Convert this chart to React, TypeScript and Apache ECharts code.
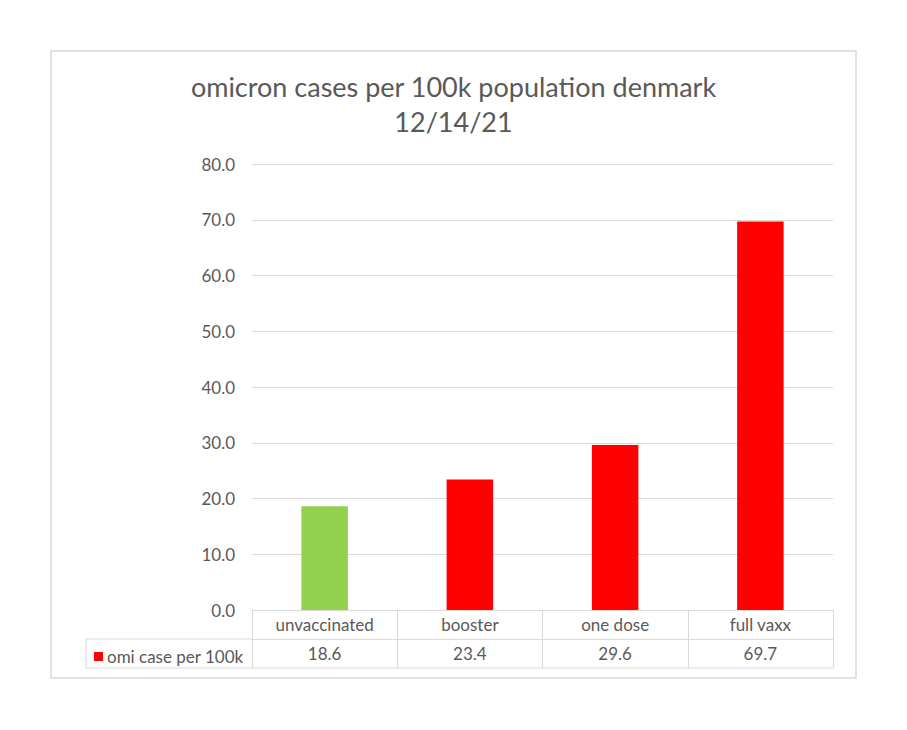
import React, { useEffect, useRef } from "react";
import * as echarts from "echarts";

const TITLE_LINE_1 = "omicron cases per 100k population denmark";
const TITLE_LINE_2 = "12/14/21";
const CATEGORIES = ["unvaccinated", "booster", "one dose", "full vaxx"];
const SERIES_NAME = "omi case per 100k";
const CASES_PER_100K = [18.6, 23.4, 29.6, 69.7];
const HIGHLIGHT_CATEGORY = "unvaccinated";
const Y_MIN = 0;
const Y_MAX = 80;
const Y_INTERVAL = 10;

const FONT = "Lato, 'Open Sans', sans-serif";
const TEXT = "#595959";
const GRID_LINE = "#d9d9d9";
const RED = "#ff0000";
const GREEN = "#92d050";

export default function App() {
  const ref = useRef<HTMLDivElement>(null);
  useEffect(() => {
    if (!ref.current) return;
    const chart = echarts.init(ref.current, undefined, { renderer: "svg" });
    const gridLeft = 252;
    const gridRight = 833;
    const gridTop = 164;
    const gridBottom = 610;
    const rowH = 29;
    const tableLeft = 86;
    chart.setOption({
      animation: false,
      backgroundColor: "#ffffff",
      title: {
        text: TITLE_LINE_1 + "\n" + TITLE_LINE_2,
        left: "center",
        top: 64,
        textStyle: {
          fontFamily: FONT,
          fontSize: 27,
          fontWeight: "normal",
          color: TEXT,
          lineHeight: 35,
        },
      },
      legend: {
        show: true,
        data: [SERIES_NAME],
        left: 89,
        top: 643,
        icon: "rect",
        itemWidth: 9,
        itemHeight: 9,
        itemGap: 6,
        textStyle: { fontFamily: FONT, fontSize: 17, color: TEXT, padding: [0, 0, 0, -1] },
      },
      grid: {
        left: gridLeft,
        right: 907 - gridRight,
        top: gridTop,
        bottom: 730 - gridBottom,
        containLabel: false,
      },
      xAxis: [
        {
          type: "category",
          data: CATEGORIES,
          position: "bottom",
          axisLine: { show: true, lineStyle: { color: GRID_LINE, width: 1 } },
          axisTick: {
            show: true,
            interval: 0,
            length: rowH * 2,
            lineStyle: { color: GRID_LINE, width: 1 },
          },
          axisLabel: {
            interval: 0,
            margin: 0,
            lineHeight: rowH,
            fontFamily: FONT,
            fontSize: 17,
            color: TEXT,
          },
        },
        {
          type: "category",
          data: CASES_PER_100K.map((v) => v.toFixed(1)),
          position: "bottom",
          offset: rowH,
          axisLine: { show: true, lineStyle: { color: GRID_LINE, width: 1 } },
          axisTick: { show: false },
          axisLabel: {
            interval: 0,
            margin: 0,
            lineHeight: rowH,
            fontFamily: FONT,
            fontSize: 17,
            color: TEXT,
          },
        },
      ],
      yAxis: {
        type: "value",
        min: Y_MIN,
        max: Y_MAX,
        interval: Y_INTERVAL,
        axisLine: { show: false },
        axisTick: { show: false },
        splitLine: { lineStyle: { color: GRID_LINE, width: 1 } },
        axisLabel: {
          margin: 17,
          fontFamily: FONT,
          fontSize: 17,
          color: TEXT,
          formatter: (v: number) => v.toFixed(1),
        },
      },
      series: [
        {
          name: SERIES_NAME,
          type: "bar",
          xAxisIndex: 0,
          barWidth: "32%",
          itemStyle: { color: RED },
          data: CASES_PER_100K.map((v, i) => ({
            value: v,
            itemStyle: { color: CATEGORIES[i] === HIGHLIGHT_CATEGORY ? GREEN : RED },
          })),
        },
      ],
      graphic: [
        {
          type: "rect",
          shape: { x: 51, y: 51, width: 805, height: 627 },
          style: { fill: "none", stroke: GRID_LINE, lineWidth: 1.5 },
          silent: true,
        },
        {
          type: "line",
          shape: { x1: tableLeft, y1: gridBottom + rowH, x2: gridLeft, y2: gridBottom + rowH },
          style: { stroke: GRID_LINE, lineWidth: 1 },
        },
        {
          type: "line",
          shape: { x1: tableLeft, y1: gridBottom + rowH * 2, x2: gridRight, y2: gridBottom + rowH * 2 },
          style: { stroke: GRID_LINE, lineWidth: 1 },
        },
        {
          type: "line",
          shape: { x1: tableLeft, y1: gridBottom + rowH, x2: tableLeft, y2: gridBottom + rowH * 2 },
          style: { stroke: GRID_LINE, lineWidth: 1 },
        },
      ],
    });
    return () => chart.dispose();
  }, []);
  return (
    <div
      ref={ref}
      style={{ position: "absolute", left: 0, top: 0, width: 907, height: 730, background: "#fff" }}
    />
  );
}
